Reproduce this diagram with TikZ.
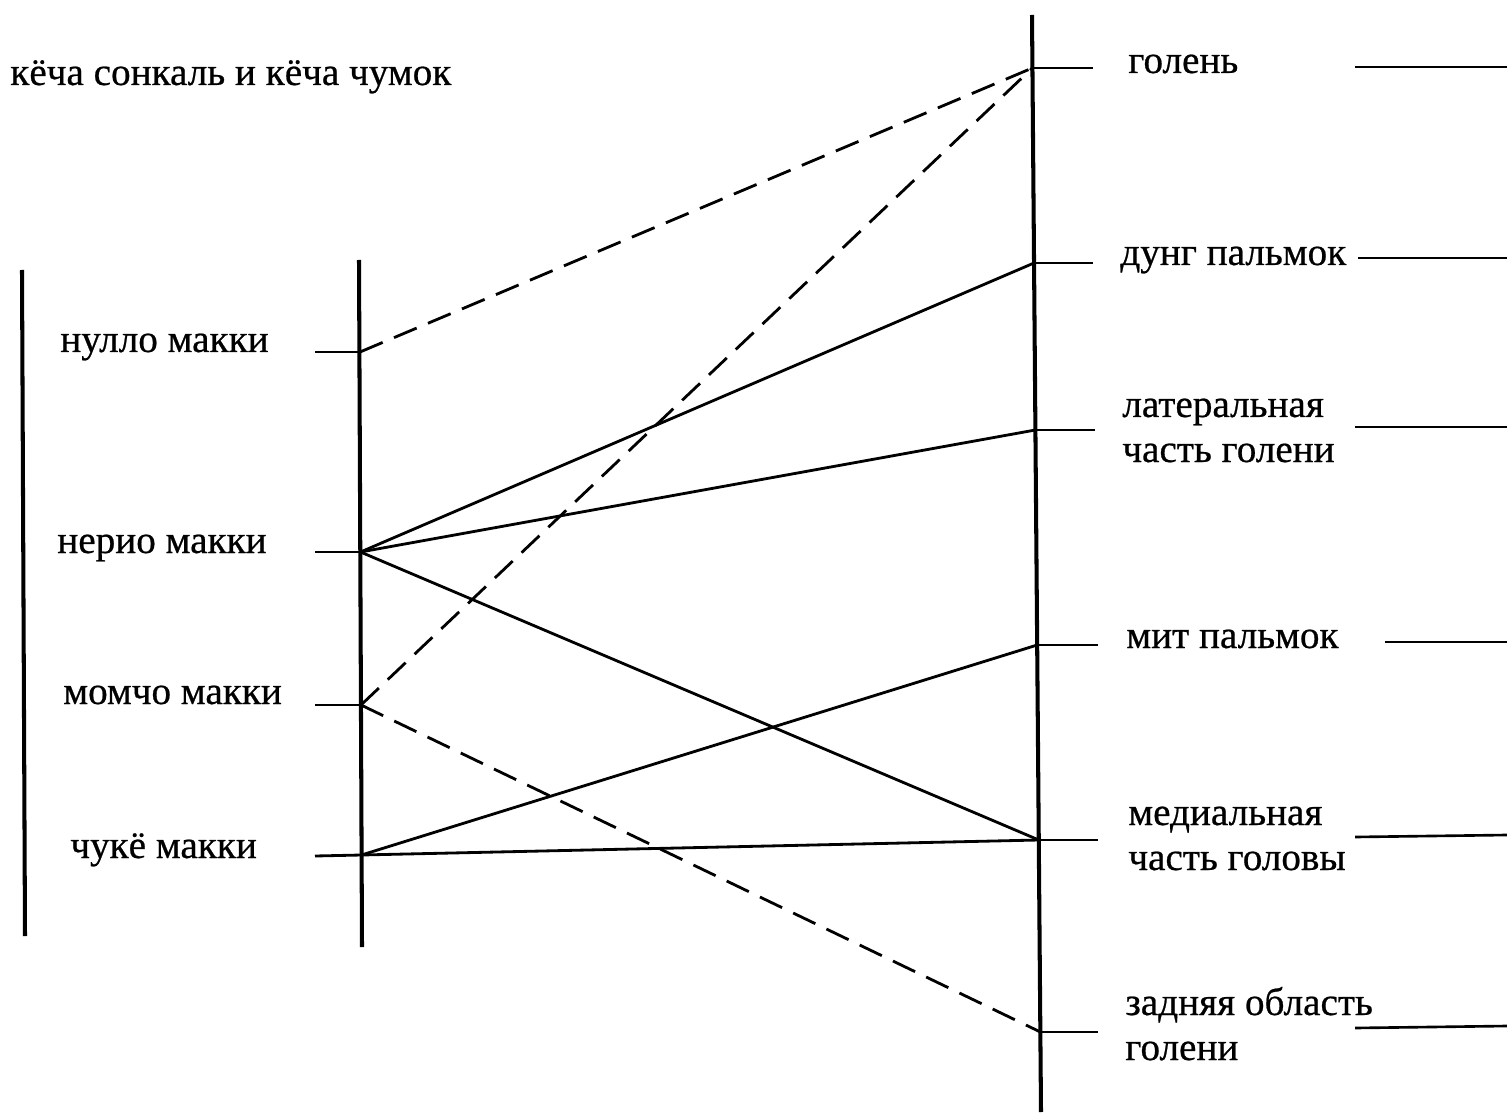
\documentclass[tikz,border=0pt]{standalone}
\usepackage{fontspec}
\setmainfont{Liberation Serif}[FakeBold=0.6]
\begin{document}
\begin{tikzpicture}[x=0.02cm,y=-0.02cm,
  axisline/.style={line width=2.3pt},
  tickline/.style={line width=1.5pt},
  conn/.style={line width=1.6pt},
  dconn/.style={line width=1.6pt,dash pattern=on 14pt off 7pt},
  lbl/.style={anchor=base west,inner sep=0pt,font=\fontsize{22.3}{26}\selectfont}]
\useasboundingbox (0,0) rectangle (1507,1114);
% axes
\coordinate (LAtop) at (359,260);
\coordinate (LAbot) at (362,947);
\coordinate (RAtop) at (1032,15);
\coordinate (RAbot) at (1041,1112);
\coordinate (FLtop) at (22,270);
\coordinate (FLbot) at (25,936);
\draw[axisline] (LAtop) -- (LAbot);
\draw[axisline] (RAtop) -- (RAbot);
\draw[axisline] (FLtop) -- (FLbot);
% left tick points
\coordinate (Lnul) at (360,352);
\coordinate (Lner) at (360.5,552);
\coordinate (Lmom) at (361,705);
\coordinate (Lchu) at (361.5,855);
\coordinate (Lnul0) at (315,352);
\coordinate (Lner0) at (315,552);
\coordinate (Lmom0) at (315,705);
\coordinate (Lchu0) at (315,856);
% right tick points
\coordinate (Rgol) at (1032.4,68);
\coordinate (Rdun) at (1034,263);
\coordinate (Rlat) at (1035.4,430);
\coordinate (Rmit) at (1037.2,645);
\coordinate (Rmed) at (1038.8,840);
\coordinate (Rzad) at (1040.4,1032);
\coordinate (Rgol1) at (1093,68);
\coordinate (Rdun1) at (1093,263);
\coordinate (Rlat1) at (1095,430);
\coordinate (Rmit1) at (1098,645);
\coordinate (Rmed1) at (1098,840);
\coordinate (Rzad1) at (1098,1032);
% far right lines
\coordinate (Egol0) at (1355,67);   \coordinate (Egol1) at (1507,67);
\coordinate (Edun0) at (1358,258);  \coordinate (Edun1) at (1507,258);
\coordinate (Elat0) at (1355,427);  \coordinate (Elat1) at (1507,427);
\coordinate (Emit0) at (1385,642);  \coordinate (Emit1) at (1507,642);
\coordinate (Emed0) at (1355,837);  \coordinate (Emed1) at (1507,835);
\coordinate (Ezad0) at (1355,1028); \coordinate (Ezad1) at (1507,1026);
% ticks
\draw[tickline] (Lnul0) -- (Lnul);
\draw[tickline] (Lner0) -- (Lner);
\draw[tickline] (Lmom0) -- (Lmom);
\draw[tickline] (Rgol) -- (Rgol1);
\draw[tickline] (Rdun) -- (Rdun1);
\draw[tickline] (Rlat) -- (Rlat1);
\draw[tickline] (Rmit) -- (Rmit1);
\draw[tickline] (Rmed) -- (Rmed1);
\draw[tickline] (Rzad) -- (Rzad1);
\draw[tickline] (Egol0) -- (Egol1);
\draw[tickline] (Edun0) -- (Edun1);
\draw[tickline] (Elat0) -- (Elat1);
\draw[tickline] (Emit0) -- (Emit1);
\draw[tickline] (Emed0) -- (Emed1);
\draw[tickline] (Ezad0) -- (Ezad1);
% connectors
\draw[dconn] (Lnul) -- (Rgol);
\draw[dconn] (Lmom) -- (Rgol);
\draw[dconn] (Lmom) -- (Rzad);
\draw[conn] (Lner) -- (Rdun);
\draw[conn] (Lner) -- (Rlat);
\draw[conn] (Lner) -- (Rmed);
\draw[conn] (Lchu) -- (Rmit);
\draw[conn] (Lchu0) -- (Lchu) -- (Rmed);
% labels
\node[lbl] (top) at (10,85) {кёча сонкаль и кёча чумок};
\node[lbl] (nul) at (60,352) {нулло макки};
\node[lbl] (ner) at (57,553) {нерио макки};
\node[lbl] (mom) at (63,704) {момчо макки};
\node[lbl] (chu) at (70,858) {чукё макки};
\node[lbl] (gol) at (1128,73) {голень};
\node[lbl] (dun) at (1120,265) {дунг пальмок};
\node[lbl] (lat) at (1122,417) {латеральная};
\node[lbl] (lat2) at (1122,462) {часть голени};
\node[lbl] (mit) at (1126,648) {мит пальмок};
\node[lbl] (med) at (1128,825) {медиальная};
\node[lbl] (med2) at (1128,870) {часть головы};
\node[lbl] (zad) at (1125,1015) {задняя область};
\node[lbl] (zad2) at (1125,1060) {голени};
\end{tikzpicture}
\end{document}
